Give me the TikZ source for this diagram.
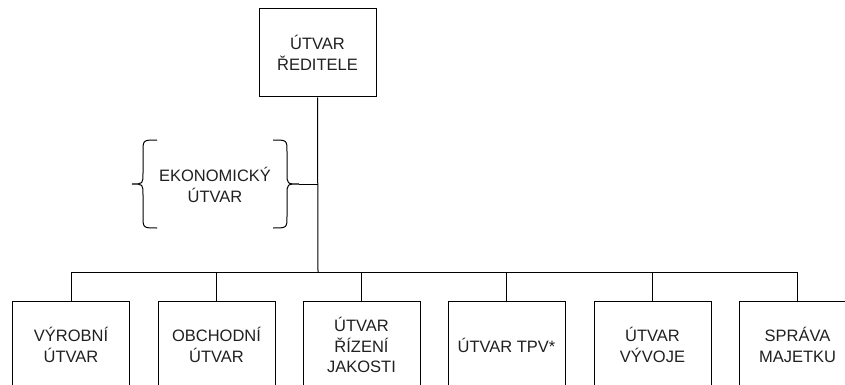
\documentclass[tikz,border=0pt]{standalone}
\usepackage{fontspec}
\setmainfont{Liberation Sans}
\definecolor{txt}{HTML}{202020}
\begin{document}
\begin{tikzpicture}[x=1pt,y=-1pt,
  line width=1pt,
  lbl/.style={align=center, font=\fontsize{16.5}{20.5}\selectfont, text=txt},
  box/.style={lbl, draw=black, minimum width=117pt, minimum height=88pt, inner sep=0pt},
  wire/.style={draw=black, line width=1pt}]
\useasboundingbox (0,0) rectangle (845,385);
\clip (0,0) rectangle (845,385);
\node[box] (top) at (317.5,53) {ÚTVAR\\ŘEDITELE};
\node[box] (c1) at (71,345) {VÝROBNÍ\\ÚTVAR};
\node[box] (c2) at (216.5,345) {OBCHODNÍ\\ÚTVAR};
\node[box] (c3) at (361.5,345) {ÚTVAR\\ŘÍZENÍ\\JAKOSTI};
\node[box] (c4) at (506.5,345) {ÚTVAR TPV*};
\node[box] (c5) at (652.5,345) {ÚTVAR\\VÝVOJE};
\node[box] (c6) at (797.5,345) {SPRÁVA\\MAJETKU};
\coordinate (j) at (318,272);
\draw[wire] (top.south) -- (j);
\foreach \c in {c1,c2,c3,c4,c5,c6} \draw[wire] (j) -| (\c.north);
% economic department with braces
\node[lbl] (eko) at (215,185) {EKONOMICKÝ\\ÚTVAR};
\coordinate (bl) at (132,184);
\coordinate (br) at (299,184);
\draw[wire] (157,140) .. controls (143,140) .. (143,152) -- (143,173)
  .. controls (143,184) .. (bl) .. controls (143,184) .. (143,195) -- (143,216)
  .. controls (143,228) .. (157,228);
\draw[wire] (273,140) .. controls (287,140) .. (287,152) -- (287,173)
  .. controls (287,184) .. (br) .. controls (287,184) .. (287,195) -- (287,216)
  .. controls (287,228) .. (273,228);
\draw[wire] (br) -- (top.south |- br);
\end{tikzpicture}
\end{document}
